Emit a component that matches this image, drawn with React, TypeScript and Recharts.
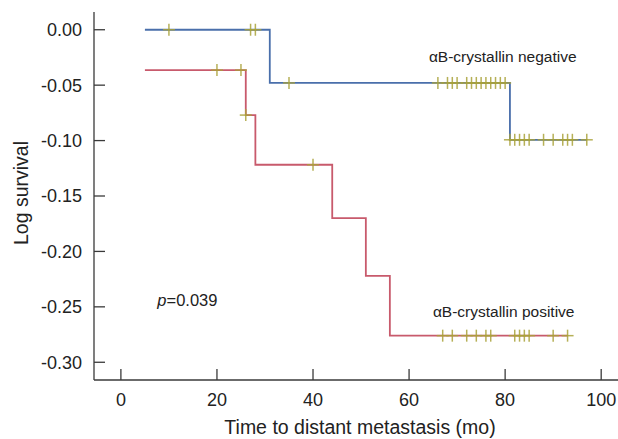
import { ComposedChart, Line, Scatter, XAxis, YAxis, ReferenceDot } from "recharts";

// log survival step points (time in months)
const negativeSteps = [
  { t: 5, v: 0 },
  { t: 31, v: -0.048 },
  { t: 81, v: -0.0993 },
  { t: 97, v: -0.0993 },
];

const positiveSteps = [
  { t: 5, v: -0.0364 },
  { t: 26, v: -0.077 },
  { t: 28, v: -0.1218 },
  { t: 44, v: -0.17 },
  { t: 51, v: -0.222 },
  { t: 56, v: -0.276 },
  { t: 93, v: -0.276 },
];

// censored cases
const negativeCensored = [
  { t: 10, v: 0 },
  { t: 27, v: 0 },
  { t: 28, v: 0 },
  { t: 35, v: -0.048 },
  { t: 66, v: -0.048 },
  { t: 68, v: -0.048 },
  { t: 69, v: -0.048 },
  { t: 70, v: -0.048 },
  { t: 72, v: -0.048 },
  { t: 73, v: -0.048 },
  { t: 74, v: -0.048 },
  { t: 75, v: -0.048 },
  { t: 76, v: -0.048 },
  { t: 77, v: -0.048 },
  { t: 78, v: -0.048 },
  { t: 79, v: -0.048 },
  { t: 80, v: -0.048 },
  { t: 81, v: -0.0993 },
  { t: 82, v: -0.0993 },
  { t: 83, v: -0.0993 },
  { t: 84, v: -0.0993 },
  { t: 85, v: -0.0993 },
  { t: 88, v: -0.0993 },
  { t: 90, v: -0.0993 },
  { t: 92, v: -0.0993 },
  { t: 93, v: -0.0993 },
  { t: 94, v: -0.0993 },
  { t: 97, v: -0.0993 },
];

const positiveCensored = [
  { t: 20, v: -0.0364 },
  { t: 25, v: -0.0364 },
  { t: 26, v: -0.077 },
  { t: 40, v: -0.1218 },
  { t: 67, v: -0.276 },
  { t: 69, v: -0.276 },
  { t: 72, v: -0.276 },
  { t: 74, v: -0.276 },
  { t: 76, v: -0.276 },
  { t: 77, v: -0.276 },
  { t: 82, v: -0.276 },
  { t: 83, v: -0.276 },
  { t: 84, v: -0.276 },
  { t: 85, v: -0.276 },
  { t: 90, v: -0.276 },
  { t: 93, v: -0.276 },
];

const xTicks = [0, 20, 40, 60, 80, 100];
const yTicks = [0, -0.05, -0.1, -0.15, -0.2, -0.25, -0.3];

const FONT = "'Liberation Sans', Arial, Helvetica, sans-serif";
const AXIS = "#3a3a3a";
const CENSOR = "#a9a23a";

const Cross = (props: any) => {
  const { cx, cy } = props;
  if (cx == null || cy == null) return null;
  return (
    <g stroke={CENSOR} strokeWidth={1.5} strokeOpacity={0.85}>
      <line x1={cx - 6} x2={cx + 6} y1={cy} y2={cy} />
      <line x1={cx} x2={cx} y1={cy - 6} y2={cy + 6} />
    </g>
  );
};

export default function App() {
  return (
    <div style={{ position: "absolute", left: 0, top: 0 }}>
      <ComposedChart
        width={618}
        height={439}
        margin={{ top: 12, right: 0, bottom: 0, left: 0 }}
        style={{ fontFamily: FONT }}
      >
        <XAxis
          dataKey="t"
          type="number"
          domain={[-5.6, 103.5]}
          ticks={xTicks}
          allowDataOverflow
          height={59}
          tickSize={-11}
          tickMargin={24}
          axisLine={{ stroke: AXIS, strokeWidth: 1.3 }}
          tickLine={{ stroke: AXIS, strokeWidth: 1.3 }}
          tick={{ fill: "#222", fontSize: 18 }}
          label={{
            value: "Time to distant metastasis (mo)",
            position: "insideBottom",
            offset: 5,
            dx: 4,
            fill: "#222",
            fontSize: 19.5,
          }}
        />
        <YAxis
          dataKey="v"
          type="number"
          domain={[-0.316, 0.016]}
          ticks={yTicks}
          allowDataOverflow
          width={94}
          tickSize={-11}
          tickMargin={23}
          tickFormatter={(v: number) => v.toFixed(2)}
          axisLine={{ stroke: AXIS, strokeWidth: 1.3 }}
          tickLine={{ stroke: AXIS, strokeWidth: 1.3 }}
          tick={{ fill: "#222", fontSize: 18 }}
          label={{
            content: ({ viewBox }: any) => {
              const x = viewBox.x + 27.5;
              const y = viewBox.y + viewBox.height / 2 - 3;
              return (
                <text
                  x={x}
                  y={y}
                  transform={`rotate(-90, ${x}, ${y})`}
                  textAnchor="middle"
                  fill="#222"
                  fontSize={19.5}
                >
                  Log survival
                </text>
              );
            },
          }}
        />
        <Line
          data={negativeSteps}
          dataKey="v"
          type="stepAfter"
          stroke="#4a6fab"
          strokeWidth={1.8}
          dot={false}
          activeDot={false}
          isAnimationActive={false}
        />
        <Line
          data={positiveSteps}
          dataKey="v"
          type="stepAfter"
          stroke="#c85a6c"
          strokeWidth={1.8}
          dot={false}
          activeDot={false}
          isAnimationActive={false}
        />
        <Scatter data={negativeCensored} dataKey="v" shape={Cross} isAnimationActive={false} />
        <Scatter data={positiveCensored} dataKey="v" shape={Cross} isAnimationActive={false} />
        <ReferenceDot
          x={79.5}
          y={-0.0242}
          r={0}
          stroke="none"
          label={{ value: "αB-crystallin negative", position: "center", fill: "#222", fontSize: 15.5 }}
        />
        <ReferenceDot
          x={79.7}
          y={-0.254}
          r={0}
          stroke="none"
          label={{ value: "αB-crystallin positive", position: "center", fill: "#222", fontSize: 15.5 }}
        />
        <ReferenceDot
          x={13.85}
          y={-0.2435}
          r={0}
          stroke="none"
          label={{
            content: ({ viewBox }: any) => (
              <text
                x={viewBox.x}
                y={viewBox.y}
                textAnchor="middle"
                dominantBaseline="central"
                fill="#222"
                fontSize={16.5}
              >
                <tspan fontStyle="italic">p</tspan>=0.039
              </text>
            ),
          }}
        />
      </ComposedChart>
    </div>
  );
}
